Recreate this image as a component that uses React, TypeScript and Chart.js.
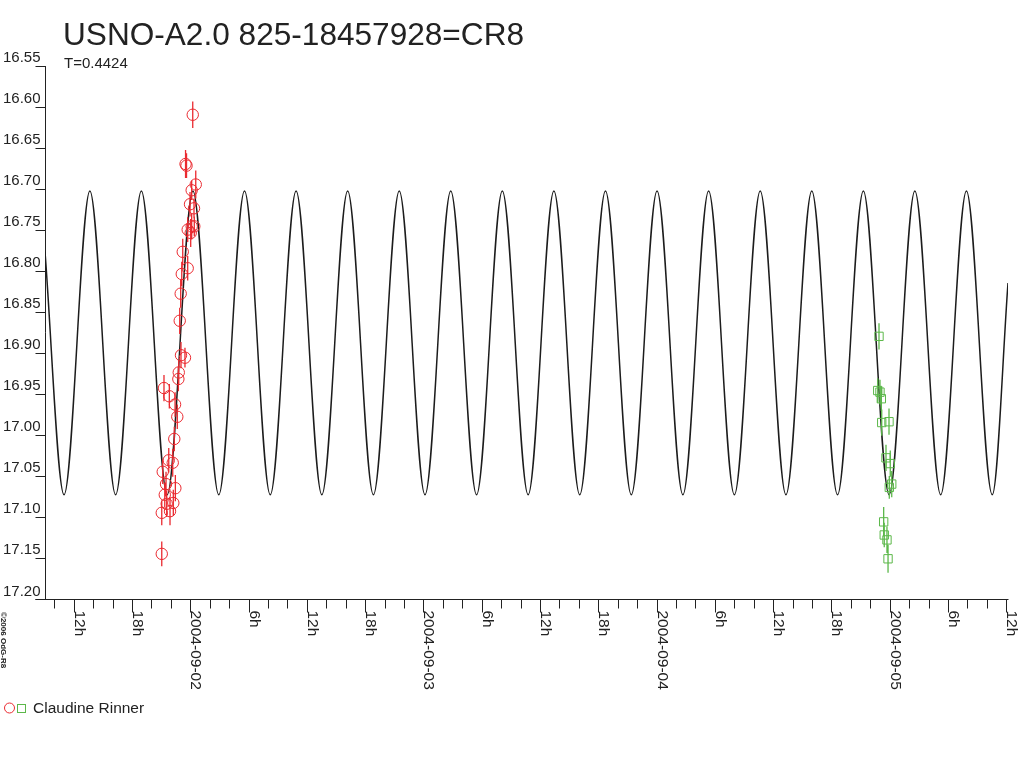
import { useEffect, useRef } from 'react';
import { Chart, registerables } from 'chart.js';

Chart.register(...registerables);

// ---- texts ----
const TITLE = 'USNO-A2.0 825-18457928=CR8';
const SUBTITLE = 'T=0.4424';
const OBSERVER = 'Claudine Rinner';
const COPYRIGHT = '©2006 OdG-R8';

// ---- axes (x = hours since 2004-09-01 00:00 UT, y = magnitude, reversed) ----
const X_MIN = 9.04;
const X_MAX = 108.18;
const X_MINOR_TICKS = [
  10, 12, 14, 16, 18, 20, 22, 24, 26, 28, 30, 32, 34, 36, 38, 40, 42, 44, 46, 48,
  50, 52, 54, 56, 58, 60, 62, 64, 66, 68, 70, 72, 74, 76, 78, 80, 82, 84, 86, 88,
  90, 92, 94, 96, 98, 100, 102, 104, 106, 108,
];
const X_MAJOR_TICKS = [12, 18, 24, 30, 36, 42, 48, 54, 60, 66, 72, 78, 84, 90, 96, 102, 108];
const X_MAJOR_LABELS = [
  '12h', '18h', '2004-09-02', '6h', '12h', '18h', '2004-09-03', '6h', '12h',
  '18h', '2004-09-04', '6h', '12h', '18h', '2004-09-05', '6h', '12h',
];
const Y_MIN = 16.55;
const Y_MAX = 17.2;
const Y_TICKS = [16.55, 16.6, 16.65, 16.7, 16.75, 16.8, 16.85, 16.9, 16.95, 17.0, 17.05, 17.1, 17.15, 17.2];
const Y_LABELS = ['16.55', '16.60', '16.65', '16.70', '16.75', '16.80', '16.85', '16.90', '16.95', '17.00', '17.05', '17.10', '17.15', '17.20'];

// ---- fitted light curve: extrema ----
const CURVE_T = [
  9.04, 11.0, 13.66, 16.31, 18.96, 21.62, 24.27, 26.93, 29.58, 32.23, 34.89, 37.54,
  40.2, 42.85, 45.51, 48.16, 50.81, 53.47, 56.12, 58.78, 61.43, 64.09, 66.74, 69.4,
  72.05, 74.71, 77.36, 80.01, 82.67, 85.32, 87.98, 90.63, 93.29, 95.94, 98.59, 101.25,
  103.9, 106.56, 108.18,
];
const CURVE_MAG = [
  16.777, 17.073, 16.703, 17.073, 16.703, 17.073, 16.703, 17.073, 16.703, 17.073, 16.703, 17.073,
  16.703, 17.073, 16.703, 17.073, 16.703, 17.073, 16.703, 17.073, 16.703, 17.073, 16.703, 17.073,
  16.703, 17.073, 16.703, 17.073, 16.703, 17.073, 16.703, 17.073, 16.703, 17.073, 16.703, 17.073,
  16.703, 17.073, 16.815,
];

// ---- observations, night 1 (red circles) ----
const RED_T = [
  24.25, 23.51, 23.61, 24.56, 24.14, 23.97, 24.38, 24.14, 24.41, 23.73, 24.04, 23.22,
  23.73, 23.12, 23.01, 22.91, 23.04, 23.45, 22.81, 22.77, 21.29, 21.84, 22.43, 22.66,
  22.35, 21.78, 22.19, 21.16, 21.5, 22.46, 21.37, 21.57, 22.25, 21.06, 21.91, 21.06,
];
const RED_MAG = [
  16.61, 16.67, 16.672, 16.695, 16.702, 16.719, 16.724, 16.746, 16.746, 16.75, 16.754, 16.777,
  16.797, 16.804, 16.828, 16.861, 16.903, 16.906, 16.924, 16.932, 16.943, 16.953, 16.963, 16.978,
  17.005, 17.031, 17.034, 17.045, 17.06, 17.065, 17.073, 17.084, 17.083, 17.095, 17.093, 17.145,
];
const RED_ERR = [
  0.016, 0.017, 0.015, 0.017, 0.012, 0.015, 0.012, 0.016, 0.012, 0.015, 0.017, 0.016,
  0.015, 0.015, 0.017, 0.016, 0.016, 0.012, 0.015, 0.015, 0.016, 0.015, 0.015, 0.015,
  0.015, 0.015, 0.017, 0.015, 0.015, 0.016, 0.015, 0.016, 0.016, 0.015, 0.017, 0.015,
];

// ---- observations, night 2 (green squares) ----
const GREEN_T = [94.9, 94.77, 95.0, 95.14, 95.18, 95.93, 95.62, 96.06, 96.21, 95.96, 95.38, 95.44, 95.72, 95.83];
const GREEN_MAG = [16.88, 16.946, 16.948, 16.956, 16.985, 16.984, 17.028, 17.035, 17.06, 17.064, 17.106, 17.122, 17.128, 17.151];
const GREEN_ERR = [0.016, 0.015, 0.015, 0.015, 0.016, 0.016, 0.016, 0.016, 0.016, 0.014, 0.018, 0.015, 0.016, 0.017];

const FONT = "'Liberation Sans', Arial, sans-serif";
const INK = '#222222';
const RED = '#ea2a30';
const GREEN = '#5cb84a';
const CURVE = '#1c1c1c';

const decorPlugin = {
  id: 'decor',
  beforeDatasetsDraw(chart: any) {
    const { ctx, chartArea: a, scales } = chart;
    const x = scales.x;
    const y = scales.y;
    ctx.save();
    ctx.strokeStyle = INK;
    ctx.lineWidth = 1;
    const ax = Math.round(a.left) + 0.5;
    const ay = Math.round(a.bottom) + 0.5;
    ctx.beginPath();
    ctx.moveTo(ax, Math.round(a.top));
    ctx.lineTo(ax, ay);
    ctx.moveTo(ax - 10, ay);
    ctx.lineTo(Math.round(a.right) + 0.5, ay);
    Y_TICKS.forEach((v) => {
      const py = Math.round(y.getPixelForValue(v)) + 0.5;
      ctx.moveTo(ax - 10, py);
      ctx.lineTo(ax, py);
    });
    x.ticks.forEach((t: any) => {
      const px = Math.round(x.getPixelForValue(t.value)) + 0.5;
      const major = X_MAJOR_TICKS.includes(t.value);
      ctx.moveTo(px, ay);
      ctx.lineTo(px, ay + (major ? 13 : 9));
    });
    ctx.stroke();

    // y labels, sitting above their tick
    ctx.fillStyle = INK;
    ctx.font = `15px ${FONT}`;
    ctx.textAlign = 'right';
    ctx.textBaseline = 'alphabetic';
    Y_TICKS.forEach((v, i) => {
      const py = y.getPixelForValue(v);
      ctx.fillText(Y_LABELS[i], 40.5, py - 3.5);
    });

    // x labels, rotated clockwise
    ctx.font = `15.5px ${FONT}`;
    ctx.textAlign = 'left';
    X_MAJOR_TICKS.forEach((v, i) => {
      const px = x.getPixelForValue(v);
      ctx.save();
      ctx.translate(px + 1, ay + 11);
      ctx.rotate(Math.PI / 2);
      ctx.fillText(X_MAJOR_LABELS[i], 0, 0);
      ctx.restore();
    });

    // title & subtitle
    ctx.font = `31.6px ${FONT}`;
    ctx.fillText(TITLE, 63, 45);
    ctx.font = `15px ${FONT}`;
    ctx.fillText(SUBTITLE, 64, 68);

    // copyright
    ctx.save();
    ctx.font = `bold 8px ${FONT}`;
    ctx.translate(1, 612);
    ctx.rotate(Math.PI / 2);
    ctx.fillText(COPYRIGHT, 0, 0);
    ctx.restore();

    // legend
    ctx.lineWidth = 1;
    ctx.strokeStyle = RED;
    ctx.beginPath();
    ctx.arc(9.5, 708, 5, 0, Math.PI * 2);
    ctx.stroke();
    ctx.strokeStyle = GREEN;
    ctx.strokeRect(17.5, 704.5, 8, 8);
    ctx.fillStyle = INK;
    ctx.font = `15.5px ${FONT}`;
    ctx.fillText(OBSERVER, 33, 713);
    ctx.restore();
  },
  afterDatasetsDraw(chart: any) {
    const { ctx, scales } = chart;
    const x = scales.x;
    const y = scales.y;
    const bars = (ts: number[], ms: number[], es: number[], color: string) => {
      ctx.strokeStyle = color;
      ctx.beginPath();
      ts.forEach((t, i) => {
        const px = x.getPixelForValue(t);
        ctx.moveTo(px, y.getPixelForValue(ms[i] - es[i]));
        ctx.lineTo(px, y.getPixelForValue(ms[i] + es[i]));
      });
      ctx.stroke();
    };
    ctx.save();
    ctx.lineWidth = 1.3;
    bars(RED_T, RED_MAG, RED_ERR, RED);
    bars(GREEN_T, GREEN_MAG, GREEN_ERR, GREEN);
    ctx.restore();
  },
};

export default function App() {
  const canvasRef = useRef<HTMLCanvasElement | null>(null);

  useEffect(() => {
    if (!canvasRef.current) return;
    const curve = CURVE_T.map((t, i) => ({ x: t, y: CURVE_MAG[i] }));
    const red = RED_T.map((t, i) => ({ x: t, y: RED_MAG[i] }));
    const green = GREEN_T.map((t, i) => ({ x: t, y: GREEN_MAG[i] }));
    const chart = new Chart(canvasRef.current, {
      type: 'line',
      data: {
        datasets: [
          {
            label: OBSERVER,
            data: red,
            showLine: false,
            pointStyle: 'circle',
            pointRadius: 5.7,
            pointBorderWidth: 1,
            pointBorderColor: RED,
            pointBackgroundColor: 'rgba(0,0,0,0)',
            order: 1,
          },
          {
            label: OBSERVER + ' 2',
            data: green,
            showLine: false,
            pointStyle: 'rect',
            pointRadius: 5.9,
            pointBorderWidth: 1,
            pointBorderColor: GREEN,
            pointBackgroundColor: 'rgba(0,0,0,0)',
            order: 1,
          },
          {
            label: 'fit',
            data: curve,
            borderColor: CURVE,
            borderWidth: 1.5,
            pointRadius: 0,
            cubicInterpolationMode: 'monotone',
            fill: false,
            order: 2,
          },
        ],
      },
      options: {
        animation: false,
        responsive: true,
        maintainAspectRatio: false,
        events: [],
        layout: { padding: { left: 45, right: 16, top: 65.5, bottom: 169 } },
        plugins: {
          legend: { display: false },
          tooltip: { enabled: false },
          title: { display: false },
        },
        scales: {
          x: {
            type: 'linear',
            min: X_MIN,
            max: X_MAX,
            grid: { display: false },
            border: { display: false },
            ticks: { display: false },
            afterBuildTicks: (s: any) => {
              s.ticks = X_MINOR_TICKS.map((v) => ({ value: v }));
            },
            afterFit: (s: any) => {
              s.height = 0;
            },
          },
          y: {
            type: 'linear',
            reverse: true,
            min: Y_MIN,
            max: Y_MAX,
            grid: { display: false },
            border: { display: false },
            ticks: { display: false },
            afterBuildTicks: (s: any) => {
              s.ticks = Y_TICKS.map((v) => ({ value: v }));
            },
            afterFit: (s: any) => {
              s.width = 0;
            },
          },
        },
      },
      plugins: [decorPlugin],
    } as any);
    return () => chart.destroy();
  }, []);

  return (
    <div style={{ position: 'absolute', left: 0, top: 0, width: 1024, height: 768, background: '#fff' }}>
      <canvas ref={canvasRef} />
    </div>
  );
}
